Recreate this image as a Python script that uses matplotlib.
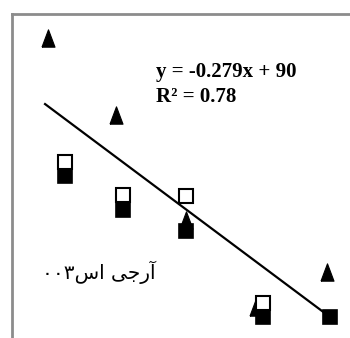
import numpy as np
from matplotlib import pyplot as plt

# series
tri_x = [102, 150, 199, 248, 298]
tri_y = [79.3, 59.2, 31.7, 9.0, 18.2]
open_x = [114, 155, 199, 253]
open_y = [46.8, 38.3, 37.9, 10.1]
fill_x = [114, 155, 199, 253, 300]
fill_y = [43.2, 34.3, 28.8, 6.4, 6.2]

slope = -0.279
intercept = 90
fit_x = [100, 300]
eq_text = "y = -0.279x + 90"
r2_text = "R\u00b2 = 0.78"
# label in Arabic presentation forms, visual order
label = "\u06f0\u06f0\u06f3\ufeb1\ufe8d \ufef0\ufe9f\ufead\ufe81"

fig = plt.figure(figsize=(3.5, 3.38), dpi=100)
ax = fig.add_axes([12 / 350, 0, 1 - 12 / 350, 1 - 14 / 338])
ax.set_xlim(76.8, 314.0)
ax.set_ylim(0.8, 85.7)

tri = [(-0.75, -1), (0.75, -1), (0, 1), (-0.75, -1)]

fx = np.array(fit_x)
ax.plot(fx, slope * fx + intercept, color='black', lw=1.6, zorder=1)
ax.plot(fill_x, fill_y, ls='none', marker='s', ms=10, mfc='black', mec='black', mew=1.2, zorder=2)
ax.plot(tri_x, tri_y, ls='none', marker=tri, ms=12.5, mfc='black', mec='black', mew=0.8, zorder=3)
ax.plot(open_x, open_y, ls='none', marker='s', ms=10, mfc='white', mec='black', mew=1.5, zorder=4)

ax.annotate(eq_text, xy=(156 / 350, 1 - 72 / 338), xycoords='figure fraction', va='center', ha='left',
            fontsize=15, fontweight='bold', family='Liberation Serif')
ax.annotate(r2_text, xy=(156 / 350, 1 - 97 / 338), xycoords='figure fraction', va='center', ha='left',
            fontsize=15, fontweight='bold', family='Liberation Serif')
ax.annotate(label, xy=(99 / 350, 1 - 272 / 338), xycoords='figure fraction', va='center', ha='center',
            fontsize=14.5, family=['DejaVu Sans'])

ax.set_xticks([])
ax.set_yticks([])
for s in ['right', 'bottom']:
    ax.spines[s].set_visible(False)
for s in ['left', 'top']:
    ax.spines[s].set_color('#8c8c8c')
    ax.spines[s].set_linewidth(2)

plt.savefig("out.png", dpi=100)
